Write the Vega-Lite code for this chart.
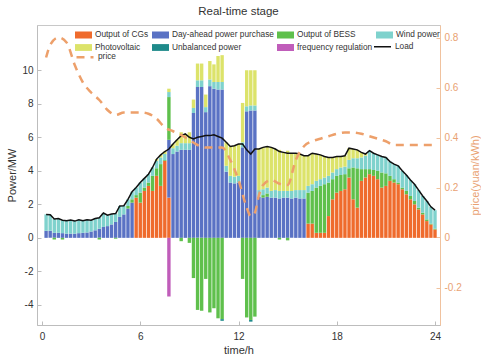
{
"$schema": "https://vega.github.io/schema/vega-lite/v6.json",
"width": 403, "height": 300,
"autosize": {"type": "none"},
"padding": {"left": 37, "top": 25, "right": 41, "bottom": 33},
"background": "white",
"title": {"text": "Real-time stage", "fontSize": 11.5, "fontWeight": "normal", "color": "#333", "offset": 8, "font": "Liberation Sans"},
"config": {"font": "Liberation Sans", "view": {"stroke": "#c8c8c8", "strokeWidth": 1}, "axis": {"grid": false}},
"datasets": {
"bars": [
{"t":0.25,"a_cg":0,"b_da":0.42,"c_bess":0,"d_wind":0.98,"e_pv":0,"f_unb":0,"g_fr":0,"load":1.40},
{"t":0.5,"a_cg":0,"b_da":0.42,"c_bess":0,"d_wind":0.96,"e_pv":0,"f_unb":0,"g_fr":0,"load":1.38},
{"t":0.75,"a_cg":0,"b_da":0.3,"c_bess":-0.1,"d_wind":0.82,"e_pv":0,"f_unb":0,"g_fr":0,"load":1.12},
{"t":1.0,"a_cg":0,"b_da":0.3,"c_bess":0,"d_wind":0.85,"e_pv":0,"f_unb":0,"g_fr":0,"load":1.15},
{"t":1.25,"a_cg":0,"b_da":0.28,"c_bess":-0.1,"d_wind":0.77,"e_pv":0,"f_unb":0,"g_fr":0,"load":1.05},
{"t":1.5,"a_cg":0,"b_da":0.25,"c_bess":0,"d_wind":0.77,"e_pv":0,"f_unb":0,"g_fr":0,"load":1.02},
{"t":1.75,"a_cg":0,"b_da":0.25,"c_bess":0,"d_wind":0.81,"e_pv":0,"f_unb":0,"g_fr":0,"load":1.06},
{"t":2.0,"a_cg":0,"b_da":0.25,"c_bess":0,"d_wind":0.75,"e_pv":0,"f_unb":0,"g_fr":0,"load":1.0},
{"t":2.25,"a_cg":0,"b_da":0.28,"c_bess":0,"d_wind":0.8,"e_pv":0,"f_unb":0,"g_fr":0,"load":1.08},
{"t":2.5,"a_cg":0,"b_da":0.3,"c_bess":0,"d_wind":0.72,"e_pv":0,"f_unb":0,"g_fr":0,"load":1.02},
{"t":2.75,"a_cg":0,"b_da":0.32,"c_bess":0,"d_wind":0.76,"e_pv":0,"f_unb":0,"g_fr":0,"load":1.08},
{"t":3.0,"a_cg":0,"b_da":0.38,"c_bess":0,"d_wind":0.67,"e_pv":0,"f_unb":0,"g_fr":0,"load":1.05},
{"t":3.25,"a_cg":0,"b_da":0.45,"c_bess":0,"d_wind":0.7,"e_pv":0,"f_unb":0,"g_fr":0,"load":1.15},
{"t":3.5,"a_cg":0,"b_da":0.55,"c_bess":-0.1,"d_wind":0.65,"e_pv":0,"f_unb":0,"g_fr":0,"load":1.2},
{"t":3.75,"a_cg":0,"b_da":0.65,"c_bess":0,"d_wind":0.83,"e_pv":0,"f_unb":0,"g_fr":0,"load":1.48},
{"t":4.0,"a_cg":0,"b_da":0.7,"c_bess":0,"d_wind":0.65,"e_pv":0,"f_unb":0,"g_fr":0,"load":1.35},
{"t":4.25,"a_cg":0,"b_da":0.8,"c_bess":0,"d_wind":0.62,"e_pv":0,"f_unb":0,"g_fr":0,"load":1.42},
{"t":4.5,"a_cg":0,"b_da":0.95,"c_bess":-0.05,"d_wind":0.5,"e_pv":0,"f_unb":0,"g_fr":0,"load":1.45},
{"t":4.75,"a_cg":0,"b_da":1.25,"c_bess":0,"d_wind":0.65,"e_pv":0,"f_unb":0,"g_fr":0,"load":1.9},
{"t":5.0,"a_cg":0,"b_da":1.4,"c_bess":0,"d_wind":0.52,"e_pv":0,"f_unb":0,"g_fr":0,"load":1.92},
{"t":5.25,"a_cg":0,"b_da":1.75,"c_bess":0.15,"d_wind":0.4,"e_pv":0,"f_unb":0,"g_fr":0,"load":2.3},
{"t":5.5,"a_cg":0,"b_da":2.1,"c_bess":0.2,"d_wind":0.45,"e_pv":0,"f_unb":0,"g_fr":0,"load":2.75},
{"t":5.75,"a_cg":2.4,"b_da":0,"c_bess":0.15,"d_wind":0.45,"e_pv":0,"f_unb":0,"g_fr":0,"load":3.0},
{"t":6.0,"a_cg":2.1,"b_da":0,"c_bess":0.6,"d_wind":0.6,"e_pv":0,"f_unb":0,"g_fr":0,"load":3.3},
{"t":6.25,"a_cg":2.8,"b_da":0,"c_bess":0.2,"d_wind":0.55,"e_pv":0,"f_unb":0,"g_fr":0,"load":3.55},
{"t":6.5,"a_cg":3.1,"b_da":0,"c_bess":0.2,"d_wind":0.5,"e_pv":0,"f_unb":0,"g_fr":0,"load":3.8},
{"t":6.75,"a_cg":2.8,"b_da":0,"c_bess":0.9,"d_wind":0.5,"e_pv":0,"f_unb":0,"g_fr":0,"load":4.2},
{"t":7.0,"a_cg":3.7,"b_da":0,"c_bess":0.45,"d_wind":0.45,"e_pv":0.1,"f_unb":0,"g_fr":0,"load":4.7},
{"t":7.25,"a_cg":3.1,"b_da":0,"c_bess":1.3,"d_wind":0.4,"e_pv":0.15,"f_unb":0,"g_fr":0,"load":4.95},
{"t":7.5,"a_cg":4.6,"b_da":0,"c_bess":0.05,"d_wind":0.35,"e_pv":0.15,"f_unb":0,"g_fr":0,"load":5.15},
{"t":7.75,"a_cg":2.4,"b_da":3.45,"c_bess":2.55,"d_wind":0.3,"e_pv":0.2,"f_unb":0,"g_fr":-3.5,"load":5.3},
{"t":8.0,"a_cg":0,"b_da":5.0,"c_bess":0,"d_wind":0.35,"e_pv":0.25,"f_unb":0,"g_fr":0,"load":5.6},
{"t":8.25,"a_cg":0,"b_da":5.15,"c_bess":0,"d_wind":0.35,"e_pv":0.35,"f_unb":0,"g_fr":0,"load":5.85},
{"t":8.5,"a_cg":0,"b_da":5.25,"c_bess":-0.2,"d_wind":0.4,"e_pv":0.65,"f_unb":0,"g_fr":0,"load":6.1},
{"t":8.75,"a_cg":0,"b_da":5.25,"c_bess":0,"d_wind":0.4,"e_pv":0.55,"f_unb":0,"g_fr":0,"load":6.2},
{"t":9.0,"a_cg":0,"b_da":5.25,"c_bess":-0.3,"d_wind":0.4,"e_pv":0.65,"f_unb":0,"g_fr":0,"load":6.0},
{"t":9.25,"a_cg":0,"b_da":7.45,"c_bess":-2.4,"d_wind":0.3,"e_pv":0.5,"f_unb":0,"g_fr":0,"load":5.9},
{"t":9.5,"a_cg":0,"b_da":9.0,"c_bess":-4.3,"d_wind":0.4,"e_pv":1.0,"f_unb":0,"g_fr":0,"load":6.0},
{"t":9.75,"a_cg":0,"b_da":9.0,"c_bess":-4.35,"d_wind":0.4,"e_pv":1.0,"f_unb":0,"g_fr":0,"load":6.05},
{"t":10.0,"a_cg":0,"b_da":7.5,"c_bess":-2.45,"d_wind":0.3,"e_pv":0.75,"f_unb":0,"g_fr":0,"load":6.1},
{"t":10.25,"a_cg":0,"b_da":9.05,"c_bess":-4.45,"d_wind":0.4,"e_pv":1.1,"f_unb":0,"g_fr":0,"load":6.1},
{"t":10.5,"a_cg":0,"b_da":8.9,"c_bess":-4.2,"d_wind":0.4,"e_pv":1.05,"f_unb":0,"g_fr":0,"load":6.15},
{"t":10.75,"a_cg":0,"b_da":8.85,"c_bess":-4.8,"d_wind":0.45,"e_pv":1.55,"f_unb":0,"g_fr":0,"load":6.05},
{"t":11.0,"a_cg":0,"b_da":8.85,"c_bess":-4.85,"d_wind":0.45,"e_pv":1.6,"f_unb":-0.1,"g_fr":0,"load":5.95},
{"t":11.25,"a_cg":0,"b_da":3.95,"c_bess":0,"d_wind":0.35,"e_pv":1.4,"f_unb":0,"g_fr":0,"load":5.7},
{"t":11.5,"a_cg":0,"b_da":3.3,"c_bess":0,"d_wind":0.4,"e_pv":1.75,"f_unb":0,"g_fr":0,"load":5.45},
{"t":11.75,"a_cg":0,"b_da":3.25,"c_bess":0,"d_wind":0.4,"e_pv":1.85,"f_unb":0,"g_fr":0,"load":5.5},
{"t":12.0,"a_cg":0,"b_da":3.3,"c_bess":0,"d_wind":0.4,"e_pv":1.9,"f_unb":0,"g_fr":0,"load":5.6},
{"t":12.25,"a_cg":0,"b_da":5.4,"c_bess":-2.45,"d_wind":0.3,"e_pv":2.35,"f_unb":0,"g_fr":0,"load":5.6},
{"t":12.5,"a_cg":0,"b_da":7.55,"c_bess":-4.75,"d_wind":0.3,"e_pv":2.15,"f_unb":0,"g_fr":0,"load":5.25},
{"t":12.75,"a_cg":0,"b_da":7.6,"c_bess":-4.9,"d_wind":0.3,"e_pv":2.1,"f_unb":-0.1,"g_fr":0,"load":5.0},
{"t":13.0,"a_cg":0,"b_da":7.6,"c_bess":-4.7,"d_wind":0.3,"e_pv":2.1,"f_unb":0,"g_fr":0,"load":5.3},
{"t":13.25,"a_cg":0,"b_da":2.45,"c_bess":0,"d_wind":0.4,"e_pv":2.45,"f_unb":0,"g_fr":0,"load":5.3},
{"t":13.5,"a_cg":0,"b_da":2.4,"c_bess":0.15,"d_wind":0.35,"e_pv":2.5,"f_unb":0,"g_fr":0,"load":5.4},
{"t":13.75,"a_cg":0,"b_da":2.45,"c_bess":0.2,"d_wind":0.35,"e_pv":2.45,"f_unb":0,"g_fr":0,"load":5.45},
{"t":14.0,"a_cg":0,"b_da":2.4,"c_bess":0,"d_wind":0.4,"e_pv":2.6,"f_unb":0,"g_fr":0,"load":5.4},
{"t":14.25,"a_cg":0,"b_da":2.4,"c_bess":0,"d_wind":0.45,"e_pv":2.45,"f_unb":0,"g_fr":0,"load":5.3},
{"t":14.5,"a_cg":0,"b_da":2.35,"c_bess":-0.1,"d_wind":0.45,"e_pv":2.45,"f_unb":0,"g_fr":0,"load":5.15},
{"t":14.75,"a_cg":0,"b_da":2.4,"c_bess":0,"d_wind":0.4,"e_pv":2.3,"f_unb":0,"g_fr":0,"load":5.1},
{"t":15.0,"a_cg":0,"b_da":2.4,"c_bess":-0.15,"d_wind":0.4,"e_pv":2.4,"f_unb":0,"g_fr":0,"load":5.05},
{"t":15.25,"a_cg":0,"b_da":2.35,"c_bess":0,"d_wind":0.45,"e_pv":2.25,"f_unb":0,"g_fr":0,"load":5.05},
{"t":15.5,"a_cg":0,"b_da":2.4,"c_bess":0,"d_wind":0.45,"e_pv":2.2,"f_unb":0,"g_fr":0,"load":5.05},
{"t":15.75,"a_cg":0,"b_da":2.35,"c_bess":0,"d_wind":0.5,"e_pv":2.15,"f_unb":0,"g_fr":0,"load":5.0},
{"t":16.0,"a_cg":0,"b_da":2.35,"c_bess":0,"d_wind":0.5,"e_pv":2.05,"f_unb":0,"g_fr":0,"load":4.9},
{"t":16.25,"a_cg":0.85,"b_da":0,"c_bess":1.85,"d_wind":0.4,"e_pv":1.8,"f_unb":0,"g_fr":0,"load":4.9},
{"t":16.5,"a_cg":0.85,"b_da":0,"c_bess":1.95,"d_wind":0.4,"e_pv":1.85,"f_unb":0,"g_fr":0,"load":5.05},
{"t":16.75,"a_cg":0.3,"b_da":0,"c_bess":2.7,"d_wind":0.4,"e_pv":1.6,"f_unb":0,"g_fr":0,"load":5.0},
{"t":17.0,"a_cg":0.3,"b_da":0,"c_bess":2.8,"d_wind":0.4,"e_pv":1.45,"f_unb":0,"g_fr":0,"load":4.95},
{"t":17.25,"a_cg":0.3,"b_da":0,"c_bess":2.9,"d_wind":0.4,"e_pv":1.25,"f_unb":0,"g_fr":0,"load":4.85},
{"t":17.5,"a_cg":1.3,"b_da":0,"c_bess":2.0,"d_wind":0.4,"e_pv":1.1,"f_unb":0,"g_fr":0,"load":4.8},
{"t":17.75,"a_cg":2.3,"b_da":0,"c_bess":1.2,"d_wind":0.4,"e_pv":0.9,"f_unb":0,"g_fr":0,"load":4.8},
{"t":18.0,"a_cg":2.7,"b_da":0,"c_bess":1.0,"d_wind":0.4,"e_pv":0.75,"f_unb":0,"g_fr":0,"load":4.85},
{"t":18.25,"a_cg":2.8,"b_da":0,"c_bess":0.95,"d_wind":0.45,"e_pv":0.65,"f_unb":0,"g_fr":0,"load":4.85},
{"t":18.5,"a_cg":2.9,"b_da":0,"c_bess":0.9,"d_wind":0.45,"e_pv":0.65,"f_unb":0,"g_fr":0,"load":4.9},
{"t":18.75,"a_cg":3.6,"b_da":0,"c_bess":0.55,"d_wind":0.5,"e_pv":0.7,"f_unb":0,"g_fr":0,"load":5.35},
{"t":19.0,"a_cg":2.3,"b_da":0,"c_bess":1.9,"d_wind":0.55,"e_pv":0.55,"f_unb":0,"g_fr":0,"load":5.3},
{"t":19.25,"a_cg":1.8,"b_da":0,"c_bess":2.35,"d_wind":0.6,"e_pv":0.5,"f_unb":0,"g_fr":0,"load":5.25},
{"t":19.5,"a_cg":3.4,"b_da":0,"c_bess":0.7,"d_wind":0.7,"e_pv":0.3,"f_unb":0,"g_fr":0,"load":5.1},
{"t":19.75,"a_cg":3.6,"b_da":0,"c_bess":0.5,"d_wind":0.8,"e_pv":0.1,"f_unb":0,"g_fr":0,"load":5.0},
{"t":20.0,"a_cg":3.8,"b_da":0,"c_bess":0.3,"d_wind":1.1,"e_pv":0,"f_unb":0,"g_fr":0,"load":5.2},
{"t":20.25,"a_cg":3.7,"b_da":0,"c_bess":0.35,"d_wind":1.0,"e_pv":0,"f_unb":0,"g_fr":0,"load":5.05},
{"t":20.5,"a_cg":3.5,"b_da":0,"c_bess":0.5,"d_wind":0.95,"e_pv":0,"f_unb":0,"g_fr":0,"load":4.95},
{"t":20.75,"a_cg":3.0,"b_da":0,"c_bess":0.9,"d_wind":0.95,"e_pv":0,"f_unb":0,"g_fr":0,"load":4.85},
{"t":21.0,"a_cg":3.1,"b_da":0,"c_bess":0.75,"d_wind":0.95,"e_pv":0,"f_unb":0,"g_fr":0,"load":4.8},
{"t":21.25,"a_cg":3.4,"b_da":0,"c_bess":0.3,"d_wind":0.85,"e_pv":0,"f_unb":0,"g_fr":0,"load":4.55},
{"t":21.5,"a_cg":3.3,"b_da":0,"c_bess":0.2,"d_wind":0.9,"e_pv":0,"f_unb":0,"g_fr":0,"load":4.4},
{"t":21.75,"a_cg":3.2,"b_da":0,"c_bess":0.1,"d_wind":1.0,"e_pv":0,"f_unb":0,"g_fr":0,"load":4.3},
{"t":22.0,"a_cg":2.9,"b_da":0,"c_bess":0.1,"d_wind":1.0,"e_pv":0,"f_unb":0,"g_fr":0,"load":4.0},
{"t":22.25,"a_cg":2.6,"b_da":0,"c_bess":0.2,"d_wind":0.95,"e_pv":0,"f_unb":0,"g_fr":0,"load":3.75},
{"t":22.5,"a_cg":2.3,"b_da":0,"c_bess":0.2,"d_wind":0.95,"e_pv":0,"f_unb":0,"g_fr":0,"load":3.45},
{"t":22.75,"a_cg":2.0,"b_da":0,"c_bess":0.2,"d_wind":1.0,"e_pv":0,"f_unb":0,"g_fr":0,"load":3.2},
{"t":23.0,"a_cg":1.7,"b_da":0,"c_bess":0.1,"d_wind":1.05,"e_pv":0,"f_unb":0,"g_fr":0,"load":2.85},
{"t":23.25,"a_cg":1.4,"b_da":0,"c_bess":0.1,"d_wind":1.0,"e_pv":0,"f_unb":0,"g_fr":0,"load":2.5},
{"t":23.5,"a_cg":1.0,"b_da":0,"c_bess":0.1,"d_wind":1.1,"e_pv":0,"f_unb":0,"g_fr":0,"load":2.2},
{"t":23.75,"a_cg":0.8,"b_da":0,"c_bess":0.05,"d_wind":1.0,"e_pv":0,"f_unb":0,"g_fr":0,"load":1.85},
{"t":24.0,"a_cg":0.5,"b_da":0,"c_bess":0.05,"d_wind":1.1,"e_pv":0,"f_unb":0,"g_fr":0,"load":1.65}
],
"price": [
{"t":0.25,"price":0.72},{"t":0.5,"price":0.77},{"t":1.0,"price":0.8},{"t":1.5,"price":0.78},{"t":2.0,"price":0.69},{"t":2.5,"price":0.62},{"t":3.0,"price":0.58},{"t":3.5,"price":0.55},{"t":4.0,"price":0.51},{"t":4.5,"price":0.49},{"t":5.0,"price":0.5},{"t":5.5,"price":0.5},{"t":6.0,"price":0.5},{"t":6.5,"price":0.495},{"t":7.0,"price":0.475},{"t":7.5,"price":0.44},{"t":8.0,"price":0.425},{"t":8.5,"price":0.41},{"t":9.0,"price":0.39},{"t":9.5,"price":0.37},{"t":10.0,"price":0.36},{"t":10.5,"price":0.36},{"t":11.0,"price":0.36},{"t":11.5,"price":0.31},{"t":12.0,"price":0.23},{"t":12.5,"price":0.12},{"t":12.75,"price":0.085},{"t":13.0,"price":0.1},{"t":13.25,"price":0.17},{"t":13.5,"price":0.21},{"t":14.0,"price":0.23},{"t":14.5,"price":0.215},{"t":15.0,"price":0.21},{"t":15.5,"price":0.31},{"t":16.0,"price":0.365},{"t":16.5,"price":0.385},{"t":17.0,"price":0.395},{"t":17.5,"price":0.405},{"t":18.0,"price":0.415},{"t":18.5,"price":0.42},{"t":19.0,"price":0.42},{"t":19.5,"price":0.415},{"t":20.0,"price":0.405},{"t":20.5,"price":0.395},{"t":21.0,"price":0.385},{"t":21.5,"price":0.37},{"t":22.0,"price":0.37},{"t":23.0,"price":0.37},{"t":24.0,"price":0.37}
]
},
"layer": [
{
"layer": [
{
"data": {"name": "bars"},
"transform": [{"fold": ["a_cg","b_da","c_bess","d_wind","e_pv","f_unb","g_fr"], "as": ["series","power"]}],
"mark": {"type": "bar", "size": 3.4},
"encoding": {
"x": {"field": "t", "type": "quantitative", "scale": {"domain": [0,24], "nice": false},
"axis": {"values": [0,6,12,18,24], "title": "time/h", "titleFontSize": 11, "titleFontWeight": "normal", "titleColor": "#333", "titlePadding": 3, "labelFontSize": 10, "labelColor": "#333", "domainColor": "#bdbdbd", "tickColor": "#bdbdbd", "tickSize": -4, "labelPadding": 10, "labelFlush": false}},
"y": {"field": "power", "type": "quantitative", "stack": "zero", "scale": {"domain": [-5.2,12.7], "nice": false, "zero": false},
"axis": {"values": [-4,-2,0,2,4,6,8,10], "labelExpr": "'' + datum.value", "title": "Power/MW", "titleX": -25, "titleY": 150, "titleAngle": 270, "titleAlign": "center", "titleBaseline": "middle", "titleFontSize": 11, "titleFontWeight": "normal", "titleColor": "#333", "labelFontSize": 10, "labelColor": "#333", "domainColor": "#bdbdbd", "tickColor": "#bdbdbd", "tickSize": -4, "labelPadding": 8}},
"order": {"field": "series", "type": "ordinal", "sort": "ascending"},
"fill": {"field": "series", "type": "nominal",
"scale": {"domain": ["a_cg","b_da","c_bess","d_wind","e_pv","f_unb","g_fr"], "range": ["#EF6B2D","#5A72C4","#5FC04C","#7FD2CD","#DCE36A","#1E8A8A","#C05DBA"]},
"legend": {"orient": "none", "legendX": 38, "legendY": 5.5, "columns": 4, "direction": "horizontal", "title": null, "padding": 0, "symbolType": "M-1,-0.4H1V0.4H-1Z", "symbolSize": 289, "symbolStrokeWidth": 0, "clipHeight": 9, "labelFontSize": 8.3, "labelColor": "#333", "labelOffset": 3, "columnPadding": 3, "rowPadding": 2.5,
"labelExpr": "{'a_cg':'Output of CGs','b_da':'Day-ahead power purchase','c_bess':'Output of BESS','d_wind':'Wind power','e_pv':'Photovoltaic','f_unb':'Unbalanced power','g_fr':'frequency regulation'}[datum.label]"}}
}
},
{
"data": {"name": "bars"},
"mark": {"type": "line", "strokeWidth": 1.5},
"encoding": {
"x": {"field": "t", "type": "quantitative"},
"y": {"field": "load", "type": "quantitative"},
"stroke": {"datum": "Load", "type": "nominal", "scale": {"domain": ["Load"], "range": ["#111111"]},
"legend": {"orient": "none", "legendX": 336, "legendY": 17.2, "title": null, "padding": 0, "symbolType": "stroke", "symbolSize": 289, "symbolStrokeWidth": 1.5, "clipHeight": 9, "labelFontSize": 8.3, "labelColor": "#333", "labelOffset": 3}}
}
}
]
},
{
"data": {"name": "price"},
"mark": {"type": "line", "strokeWidth": 2.5, "interpolate": "monotone", "stroke": "#EDA06B"},
"encoding": {
"x": {"field": "t", "type": "quantitative"},
"y": {"field": "price", "type": "quantitative", "scale": {"domain": [-0.35,0.85], "nice": false, "zero": false},
"axis": {"orient": "right", "values": [-0.2,0,0.2,0.4,0.6,0.8], "labelExpr": "'' + datum.value", "title": "price(yuan/kWh)", "titleX": 35, "titleY": 150, "titleAngle": 270, "titleAlign": "center", "titleBaseline": "middle", "titleFontSize": 11, "titleFontWeight": "normal", "titleColor": "#E9A273", "labelFontSize": 10, "labelColor": "#E9A273", "domainColor": "#F0C29E", "tickColor": "#F0C29E", "tickSize": -4, "labelPadding": 8}},
"strokeDash": {"datum": "price", "type": "nominal", "scale": {"domain": ["price"], "range": [[8,6]]},
"legend": {"orient": "none", "legendX": 38, "legendY": 27.8, "title": null, "padding": 0, "symbolType": "stroke", "symbolSize": 289, "symbolStrokeWidth": 2.5, "symbolStrokeColor": "#EDA06B", "clipHeight": 9, "labelFontSize": 8.3, "labelColor": "#333", "labelOffset": 3}}
}
}
],
"resolve": {"scale": {"y": "independent"}}
}
